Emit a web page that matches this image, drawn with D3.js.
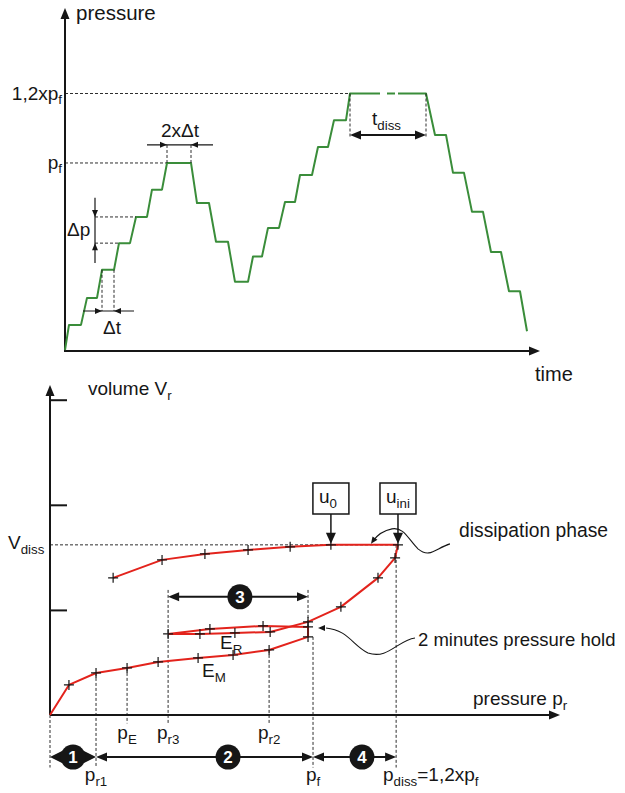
<!DOCTYPE html>
<html>
<head>
<meta charset="utf-8">
<script src="https://cdn.jsdelivr.net/npm/d3@7"></script>
<style>
  body { margin: 0; background: #fff; }
  text { font-family: "Liberation Sans", Arial, sans-serif; fill: #161616; }
</style>
</head>
<body>
<svg id="chart" width="625" height="793"></svg>
<script>
// ------------------------------------------------------------------
// Data: loading programme (top) - time units vs pressure in Δp steps
// ------------------------------------------------------------------
const progTime = [0, 0.8, 3.2, 4.4, 6.4, 7.4, 9.8, 10.8, 13, 14.2, 16.4, 17.4, 19.4, 20.4, 25.2,
  26.4, 28.8, 30.2, 32.6, 34, 36.6, 37.6, 39.4, 40.6, 42.8, 44, 46, 47, 49.4, 50.6, 52.6,
  53.8, 56.2, 57, 72.2, 74, 76.2, 77.6, 79.8, 81.4, 83.6, 85.2, 87.2, 88.8, 91, 92.4];
const progPress = [0, 0.94, 0.94, 1.95, 1.95, 3, 3, 4, 4, 4.98, 4.98, 6, 6, 7, 7,
  5.5, 5.5, 4.05, 4.05, 2.55, 2.55, 3.5, 3.5, 4.57, 4.57, 5.54, 5.54, 6.55, 6.55, 7.6, 7.6,
  8.6, 8.6, 9.6, 9.6, 8.05, 8.05, 6.63, 6.63, 5.17, 5.17, 3.67, 3.67, 2.2, 2.2, 0.7];
const pfLevel = 7, pDissLevel = 9.6;
const tDissStart = 57, tDissEnd = 72.2;
const plateauGaps = [[63, 64.4], [66, 66.6]];

// ------------------------------------------------------------------
// Data: pressuremeter curve (bottom) - pressure p_r vs volume V_r
// ------------------------------------------------------------------
const loadP = [0, 0.72, 1.75, 2.93, 4.11, 5.63, 6.96, 8.33, 9.81, 9.81];
const loadV = [0, 0.286, 0.40, 0.448, 0.505, 0.543, 0.571, 0.619, 0.743, 0.838];
const unloadP = [9.81, 8.10, 6.08, 4.49];
const unloadV = [0.838, 0.848, 0.819, 0.771];
const reloadP = [4.49, 5.70, 7.03, 8.37, 9.81, 11.06, 12.47, 13.12, 13.23];
const reloadV = [0.771, 0.771, 0.781, 0.790, 0.886, 1.029, 1.305, 1.495, 1.619];
const dissP = [13.23, 10.68, 9.13, 7.53, 5.89, 4.26, 2.40];
const dissV = [1.619, 1.619, 1.60, 1.571, 1.533, 1.476, 1.305];
const vTicks = [1, 2, 3];
const Vdiss = 1.619;
const pr1 = 1.75, pE = 2.93, pr3 = 4.49, pr2 = 8.33, pHold = 9.81, pf = 10.0, pDiss = 13.16;

const GREEN = "#3a8d3a", RED = "#e3231c", INK = "#161616";
const FS = 19;

const svg = d3.select("#chart");
svg.append("rect").attr("width", 625).attr("height", 793).attr("fill", "#fff");

// ------------------------------------------------------------------
// helpers
// ------------------------------------------------------------------
function head(g, x, y, deg, L = 10, W = 4) {
  g.append("path")
    .attr("d", `M0,0L${-L},${-W}L${-L},${W}Z`)
    .attr("transform", `translate(${x},${y}) rotate(${deg})`)
    .attr("fill", INK);
}
function seg(g, x1, y1, x2, y2, dashed, w) {
  return g.append("line")
    .attr("x1", x1).attr("y1", y1).attr("x2", x2).attr("y2", y2)
    .attr("stroke", INK).attr("stroke-width", w || (dashed ? 0.9 : 1.5))
    .attr("stroke-dasharray", dashed ? "3,2" : null);
}
// parts: [[text, isSub], ...]
function label(g, x, y, parts, anchor, size = FS) {
  const t = g.append("text").attr("x", x).attr("y", y)
    .attr("text-anchor", anchor || "start").attr("font-size", size);
  let sub = false;
  parts.forEach(([s, isSub]) => {
    const ts = t.append("tspan").text(s);
    if (isSub && !sub) ts.attr("dy", 4.5).attr("font-size", size * 0.7);
    else if (!isSub && sub) ts.attr("dy", -4.5);
    else if (isSub) ts.attr("font-size", size * 0.7);
    sub = isSub;
  });
  return t;
}
function numCircle(g, x, y, n) {
  g.append("circle").attr("cx", x).attr("cy", y).attr("r", 12.5).attr("fill", INK);
  g.append("text").attr("x", x).attr("y", y + 6).attr("text-anchor", "middle")
    .attr("font-size", 17).attr("font-weight", "bold").style("fill", "#fff").text(n);
}

// ------------------------------------------------------------------
// Top: pressure vs time
// ------------------------------------------------------------------
const xT = d3.scaleLinear().domain([0, 95]).range([65, 540]);
const yT = d3.scaleLinear().domain([0, 12.8]).range([350, 8]);
const topG = svg.append("g");

// reference dashed levels
seg(topG, xT(0), yT(pfLevel), xT(20.4), yT(pfLevel), true);
seg(topG, xT(0), yT(pDissLevel), xT(tDissStart), yT(pDissLevel), true);

// axes
seg(topG, xT(0), yT(0) + 1, xT(0), yT(12.8) + 6, false, 2);
head(topG, xT(0), yT(12.8), -90, 11, 4.5);
seg(topG, xT(0) - 1, yT(0) + 1, xT(95) - 6, yT(0) + 1, false, 2);
head(topG, xT(95), yT(0) + 1, 0, 11, 4.5);

// programme line
const progLine = d3.line().x(d => xT(d[0])).y(d => yT(d[1]));
topG.append("path")
  .datum(d3.zip(progTime, progPress))
  .attr("d", progLine)
  .attr("fill", "none").attr("stroke", GREEN).attr("stroke-width", 2)
  .attr("stroke-linejoin", "round");
plateauGaps.forEach(([a, b]) => {
  topG.append("line").attr("x1", xT(a)).attr("x2", xT(b))
    .attr("y1", yT(pDissLevel)).attr("y2", yT(pDissLevel))
    .attr("stroke", "#fff").attr("stroke-width", 4);
});

// Δt
seg(topG, xT(7.4), yT(3), xT(7.4), yT(1.46), true);
seg(topG, xT(9.8), yT(3), xT(9.8), yT(1.46), true);
seg(topG, xT(3.6), yT(1.46), xT(13.8), yT(1.46), false, 1.2);
head(topG, xT(7.4), yT(1.46), 0, 7, 3);
head(topG, xT(9.8), yT(1.46), 180, 7, 3);
topG.append("text").attr("x", xT(9.4)).attr("y", 334).attr("text-anchor", "middle")
  .attr("font-size", FS).text("Δt");

// 2xΔt
seg(topG, xT(20.4), yT(pfLevel), xT(20.4), yT(7.68), true);
seg(topG, xT(25.2), yT(pfLevel), xT(25.2), yT(7.68), true);
seg(topG, xT(16.4), yT(7.68), xT(29.6), yT(7.68), false, 1.2);
head(topG, xT(20.4), yT(7.68), 0, 7, 3);
head(topG, xT(25.2), yT(7.68), 180, 7, 3);
topG.append("text").attr("x", xT(23)).attr("y", 137).attr("text-anchor", "middle")
  .attr("font-size", FS).text("2xΔt");

// Δp
seg(topG, xT(6), yT(4.98), xT(14.2), yT(4.98), true);
seg(topG, xT(6), yT(4.0), xT(10.8), yT(4.0), true);
seg(topG, xT(6), yT(5.7), xT(6), yT(3.26), false, 1.2);
head(topG, xT(6), yT(4.98), 90, 7, 3);
head(topG, xT(6), yT(4.0), -90, 7, 3);
topG.append("text").attr("x", 67).attr("y", 236).attr("font-size", FS).text("Δp");

// t_diss
seg(topG, xT(tDissStart), yT(pDissLevel), xT(tDissStart), yT(7.95), true);
seg(topG, xT(tDissEnd), yT(pDissLevel), xT(tDissEnd), yT(7.95), true);
seg(topG, xT(tDissStart) + 6, yT(8.05), xT(tDissEnd) - 6, yT(8.05), false, 2);
head(topG, xT(tDissStart), yT(8.05), 180, 11, 4.5);
head(topG, xT(tDissEnd), yT(8.05), 0, 11, 4.5);
label(topG, 372, 125, [["t", false], ["diss", true]]);

// axis labels
topG.append("text").attr("x", 76).attr("y", 20).attr("font-size", 20.5).text("pressure");
topG.append("text").attr("x", 535).attr("y", 381).attr("font-size", 20).text("time");
label(topG, 62, yT(pDissLevel) + 6, [["1,2xp", false], ["f", true]], "end");
label(topG, 62, yT(pfLevel) + 6, [["p", false], ["f", true]], "end");

// ------------------------------------------------------------------
// Bottom: volume vs pressure
// ------------------------------------------------------------------
const xB = d3.scaleLinear().domain([0, 19.39]).range([50, 560]);
const yB = d3.scaleLinear().domain([0, 3.14]).range([715, 385]);
const bot = svg.append("g");

// dashed guide lines
seg(bot, xB(0), yB(Vdiss), xB(pDiss), yB(Vdiss), true);
seg(bot, xB(0), yB(0), xB(0), yB(-0.5), true);
seg(bot, xB(pr1), yB(0.40), xB(pr1), yB(-0.5), true);
seg(bot, xB(pE), yB(0.448), xB(pE), yB(-0.08), true);
seg(bot, xB(pr3), yB(1.19), xB(pr3), yB(-0.08), true);
seg(bot, xB(pr2), yB(0.619), xB(pr2), yB(-0.08), true);
seg(bot, xB(pHold), yB(1.19), xB(pHold), yB(0.743), true);
seg(bot, xB(pf), yB(0.743), xB(pf), yB(-0.5), true);
seg(bot, xB(pDiss), yB(Vdiss), xB(pDiss), yB(-0.5), true);

// axes
seg(bot, xB(0), yB(0), xB(0), yB(3.14) + 6, false, 2);
head(bot, xB(0), yB(3.14), -90, 11, 4.5);
seg(bot, xB(0), yB(0), xB(19.39) - 6, yB(0), false, 2);
head(bot, xB(19.39), yB(0), 0, 11, 4.5);
bot.append("g")
  .attr("transform", `translate(${xB(0)},0)`)
  .call(d3.axisRight(yB).tickValues(vTicks).tickSize(17).tickFormat(""))
  .call(g => g.select(".domain").remove())
  .call(g => g.selectAll(".tick line").attr("stroke", INK).attr("stroke-width", 2));

// curves
const curve = d3.line().x(d => xB(d[0])).y(d => yB(d[1]));
[[loadP, loadV], [unloadP, unloadV], [reloadP, reloadV], [dissP, dissV]].forEach(([p, v]) => {
  bot.append("path").datum(d3.zip(p, v)).attr("d", curve)
    .attr("fill", "none").attr("stroke", RED).attr("stroke-width", 2)
    .attr("stroke-linejoin", "round");
});
const crossPts = [].concat(
  d3.zip(loadP, loadV).slice(1),
  d3.zip(unloadP, unloadV).slice(1),
  d3.zip(reloadP, reloadV).slice(1),
  d3.zip(dissP, dissV).slice(1)
);
bot.selectAll("path.cross").data(crossPts).join("path")
  .attr("class", "cross")
  .attr("d", d => `M${xB(d[0]) - 5},${yB(d[1])}h10M${xB(d[0])},${yB(d[1]) - 5}v10`)
  .attr("stroke", INK).attr("stroke-width", 1.2);

// u0 / u_ini boxes
[[10.68, "u", "0"], [13.23, "u", "ini"]].forEach(([p, a, b]) => {
  const cx = xB(p);
  bot.append("rect").attr("x", cx - 18).attr("y", 483).attr("width", 36).attr("height", 31)
    .attr("fill", "#fff").attr("stroke", INK).attr("stroke-width", 1.5);
  label(bot, cx - (b === "0" ? 3 : 0), 503, [[a, false], [b, true]], "middle");
  seg(bot, cx, 514, cx, yB(Vdiss) - 8, false, 1.5);
  head(bot, cx, yB(Vdiss) - 1, 90, 11, 5);
});

// dissipation phase leader
{
  const ax = xB(13.23), ay = yB(Vdiss);
  bot.append("path")
    .attr("d", `M${ax + 52},${ay - 1} C${ax + 38},${ay + 3} ${ax + 32},${ay + 14} ${ax + 20},${ay + 4}
      C${ax + 10},${ay - 6} ${ax + 6},${ay - 18} ${ax - 6},${ay - 16}
      C${ax - 16},${ay - 14} ${ax - 22},${ay - 8} ${ax - 25},${ay - 4}`)
    .attr("fill", "none").attr("stroke", INK).attr("stroke-width", 1.1);
  head(bot, ax - 27, ay - 1, 125, 7, 3);
}
bot.append("text").attr("x", 459).attr("y", 537).attr("font-size", 19.3).text("dissipation phase");

// 2 minutes pressure hold leader
{
  const ax = xB(pHold) + 10, ay = yB(0.838) + 1;
  bot.append("path")
    .attr("d", `M${ax + 97},${ay + 10} C${ax + 80},${ay + 12} ${ax + 70},${ay + 32} ${ax + 50},${ay + 25}
      C${ax + 35},${ay + 18} ${ax + 30},${ay + 2} ${ax + 8},${ay}`)
    .attr("fill", "none").attr("stroke", INK).attr("stroke-width", 1.1);
  head(bot, ax, ay, 180, 7, 3);
}
bot.append("text").attr("x", 418).attr("y", 646).attr("font-size", 18.5).text("2 minutes pressure hold");

// brackets
const yBr3 = yB(1.124), yBrB = yB(-0.4);
seg(bot, xB(pr3) + 8, yBr3, xB(pHold) - 8, yBr3, false, 2);
head(bot, xB(pr3), yBr3, 180, 11, 4.5);
head(bot, xB(pHold), yBr3, 0, 11, 4.5);
numCircle(bot, xB(7.22), yBr3, "3");

seg(bot, xB(0) + 8, yBrB, xB(pr1) - 8, yBrB, false, 2);
head(bot, xB(0), yBrB, 180, 12, 6);
head(bot, xB(pr1), yBrB, 0, 12, 6);
numCircle(bot, xB(0.875), yBrB, "1");

seg(bot, xB(pr1) + 8, yBrB, xB(pf) - 8, yBrB, false, 2);
head(bot, xB(pr1), yBrB, 180, 11, 4.5);
head(bot, xB(pf), yBrB, 0, 11, 4.5);
numCircle(bot, xB(6.77), yBrB, "2");

seg(bot, xB(pf) + 8, yBrB, xB(pDiss) - 8, yBrB, false, 2);
head(bot, xB(pf), yBrB, 180, 11, 4.5);
head(bot, xB(pDiss), yBrB, 0, 11, 4.5);
numCircle(bot, xB(11.86), yBrB, "4");

// labels
label(bot, 88, 395, [["volume V", false], ["r", true]]);
label(bot, 8, 549, [["V", false], ["diss", true]]);
label(bot, 473, 705, [["pressure p", false], ["r", true]]);
label(bot, 220, 649, [["E", false], ["R", true]]);
label(bot, 202, 677, [["E", false], ["M", true]]);
label(bot, xB(pE), 739, [["p", false], ["E", true]], "middle");
label(bot, xB(pr3), 739, [["p", false], ["r3", true]], "middle");
label(bot, xB(pr2), 739, [["p", false], ["r2", true]], "middle");
label(bot, xB(pr1), 781, [["p", false], ["r1", true]], "middle");
label(bot, xB(pf), 781, [["p", false], ["f", true]], "middle");
label(bot, 383, 781, [["p", false], ["diss", true], ["=1,2xp", false], ["f", true]]);
</script>
</body>
</html>
